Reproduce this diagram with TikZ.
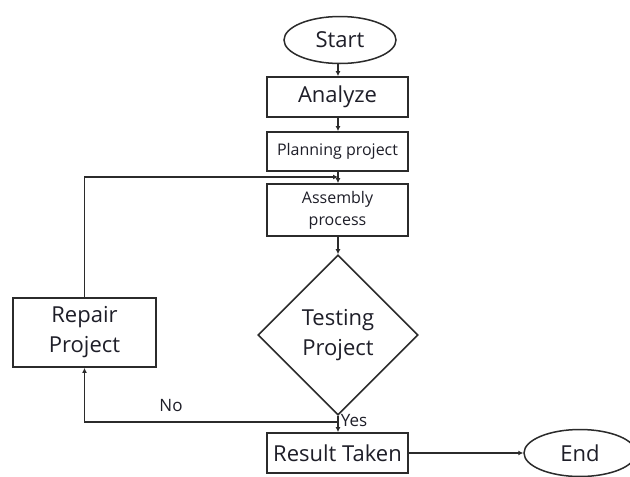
\documentclass[tikz,border=0pt]{standalone}
\usepackage{fontspec}
\setmainfont{Open Sans}
\usetikzlibrary{shapes.geometric,arrows.meta}
\definecolor{ink}{HTML}{1E1E28}
\definecolor{edge}{HTML}{2B2B2B}
\begin{document}
\begin{tikzpicture}[x=1pt,y=-1pt,
  every node/.style={text=ink},
  big/.style={font=\fontsize{22}{30}\selectfont},
  small/.style={font=\fontsize{16}{22}\selectfont},
  term/.style={ellipse,draw=edge,line width=1.5pt,minimum width=112pt,minimum height=47pt,inner sep=0pt,big},
  stepbox/.style={rectangle,draw=edge,line width=1.8pt,minimum width=141pt,inner sep=0pt,align=center},
  decide/.style={diamond,draw=edge,line width=1.6pt,minimum width=160pt,minimum height=160pt,inner sep=0pt,align=center,big},
  flow/.style={draw=edge,line width=1.5pt,-{Latex[length=5pt,width=5pt]}},
  lbl/.style={font=\fontsize{17}{20}\selectfont,inner sep=0pt}
]
\useasboundingbox (0,0) rectangle (630,477);
\fill[white] (0,0) rectangle (630,477);

% process chain
\node[term] (start) at (340,40) {Start};
\node[stepbox,big,minimum height=40pt] (analyze) at (337.5,97) {Analyze};
\node[stepbox,small,minimum height=39pt] (plan) at (337.5,151.5) {Planning project};
\node[stepbox,small,minimum height=52pt] (assembly) at (337.5,210) {Assembly\\process};
\node[decide] (test) at (338,335) {Testing\\Project};
\node[stepbox,big,minimum width=143pt,minimum height=69pt] (repair) at (84.5,332.5) {Repair\\Project};
\node[stepbox,big,minimum height=40pt] (result) at (337.5,453) {Result Taken};
\node[term] (end) at (580,453) {End};

% junction points on the loop
\coordinate (loopin) at (338,177);
\coordinate (nojoin) at (338,422);

\draw[flow] (start.south -| 338,0) -- (analyze.north -| 338,0);
\draw[flow] (analyze.south -| 338,0) -- (plan.north -| 338,0);
\draw[flow] (plan.south -| 338,0) -- (assembly.north -| 338,0);
\draw[flow] (assembly.south -| 338,0) -- (test.north);
\draw[flow] (test.south) -- (result.north -| 338,0);
\draw[flow] (result.east) -- (end.west);

% repair loop
\draw[flow] (repair.north) |- (loopin);
\draw[flow] (nojoin) -| (repair.south);

\node[lbl] (no) at (171,406) {No};
\node[lbl] (yes) at (354,421) {Yes};
\end{tikzpicture}
\end{document}
